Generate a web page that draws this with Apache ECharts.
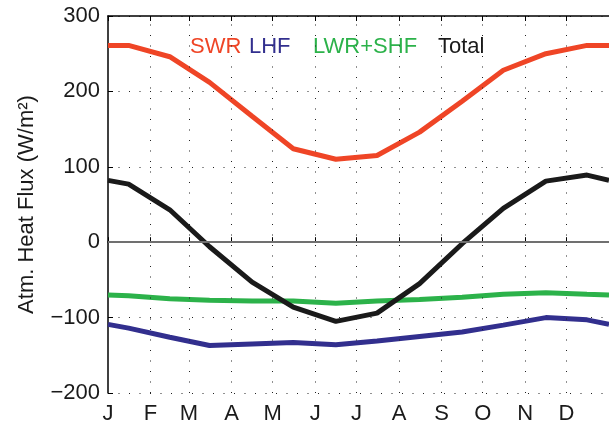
<!DOCTYPE html>
<html>
<head>
<meta charset="utf-8">
<script src="https://cdn.jsdelivr.net/npm/echarts@6/dist/echarts.min.js"></script>
<style>
  html, body { margin: 0; padding: 0; background: #fff; }
  #chart { width: 609px; height: 427px; }
</style>
</head>
<body>
<div id="chart"></div>
<script>
// Day of year for each monthly value (mid-month), padded at both ends of the year
const days = [0, 15, 45, 74, 105, 135, 166, 196, 227, 258, 288, 319, 349, 365];

// Monthly climatology of atmospheric heat flux components (W/m^2)
const swr   = [261, 261, 246, 212, 167, 124, 110, 115, 146, 187, 228, 250, 261, 261];
const lhf   = [-109, -114, -126, -137, -135, -133, -136, -131, -125, -119, -110, -100, -103, -109];
const lwrShf = [-70, -71, -75, -77, -78, -78, -81, -78, -76, -73, -69, -67, -69, -70];
const total = [82, 77, 43, -6, -53, -86, -105, -94, -55, -2, 45, 81, 89, 82];

// Month boundaries (day of year) and their labels
const monthStarts = [0, 31, 59, 90, 120, 151, 181, 212, 243, 273, 304, 334];
const monthLabels = ['J', 'F', 'M', 'A', 'M', 'J', 'J', 'A', 'S', 'O', 'N', 'D'];

// Y axis range and ticks
const yMin = -200, yMax = 300, yStep = 100;

const FONT = '"Liberation Sans", Arial, Helvetica, sans-serif';
const colors = { swr: '#EF4526', lhf: '#322F8E', lwr: '#2CB24A', total: '#1A1A1A' };

const pair = (xs, ys) => xs.map((x, i) => [x, ys[i]]);

const chart = echarts.init(document.getElementById('chart'), null, { renderer: 'canvas' });

const dotted = { color: '#222', width: 1, type: [1, 9.5] };

const baseX = {
  type: 'value', min: 0, max: 365,
  axisLine: { show: true, lineStyle: { color: '#000', width: 1.5 } },
  splitLine: { show: false }
};

chart.setOption({
  animation: false,
  backgroundColor: '#fff',
  grid: { left: 108, top: 16, right: -4, bottom: 34, containLabel: false },
  xAxis: [
    Object.assign({}, baseX, {
      position: 'bottom',
      axisTick: { show: true, inside: true, length: 5, customValues: monthStarts, lineStyle: { color: '#000', width: 1 } },
      axisLabel: {
        customValues: monthStarts,
        margin: 10,
        color: '#1a1a1a',
        fontFamily: FONT,
        fontSize: 22,
        formatter: v => monthLabels[monthStarts.indexOf(v)] || ''
      }
    }),
    Object.assign({}, baseX, {
      position: 'top',
      axisTick: { show: true, inside: true, length: 5, customValues: monthStarts, lineStyle: { color: '#000', width: 1 } },
      axisLabel: { show: false }
    })
  ],
  yAxis: {
    type: 'value', min: yMin, max: yMax, interval: yStep,
    axisLine: { show: true, lineStyle: { color: '#000', width: 1.5 } },
    axisTick: { show: true, inside: true, length: 5, lineStyle: { color: '#000', width: 1 } },
    axisLabel: {
      margin: 8,
      color: '#1a1a1a',
      fontFamily: FONT,
      fontSize: 22,
      formatter: v => String(v).replace('-', '\u2212')
    },
    splitLine: { show: true, lineStyle: dotted },
    name: 'Atm. Heat Flux (W/m\u00B2)',
    nameLocation: 'middle',
    nameRotate: 90,
    nameGap: 70,
    nameTextStyle: { color: '#1a1a1a', fontFamily: FONT, fontSize: 22 }
  },
  graphic: [
    { type: 'text', left: 190, top: 36, style: { text: 'SWR', fill: colors.swr, font: '22px ' + FONT } },
    { type: 'text', left: 249, top: 36, style: { text: 'LHF', fill: colors.lhf, font: '22px ' + FONT } },
    { type: 'text', left: 313, top: 36, style: { text: 'LWR+SHF', fill: colors.lwr, font: '22px ' + FONT } },
    { type: 'text', left: 438, top: 36, style: { text: 'Total', fill: '#1a1a1a', font: '22px ' + FONT } }
  ],
  series: [
    {
      // vertical month grid and the zero reference line
      type: 'line', data: [], silent: true, z: 1,
      markLine: {
        silent: true, symbol: 'none', label: { show: false },
        animation: false,
        data: monthStarts.slice(1).map(d => ({ xAxis: d, lineStyle: dotted }))
          .concat([{ yAxis: 0, lineStyle: { color: '#707070', width: 2, type: 'solid' } }])
      }
    },
    { name: 'SWR', type: 'line', data: pair(days, swr), showSymbol: false, z: 3,
      lineStyle: { color: colors.swr, width: 5 }, itemStyle: { color: colors.swr } },
    { name: 'LHF', type: 'line', data: pair(days, lhf), showSymbol: false, z: 3,
      lineStyle: { color: colors.lhf, width: 5 }, itemStyle: { color: colors.lhf } },
    { name: 'LWR+SHF', type: 'line', data: pair(days, lwrShf), showSymbol: false, z: 3,
      lineStyle: { color: colors.lwr, width: 5 }, itemStyle: { color: colors.lwr } },
    { name: 'Total', type: 'line', data: pair(days, total), showSymbol: false, z: 4,
      lineStyle: { color: colors.total, width: 5 }, itemStyle: { color: colors.total } }
  ]
});
</script>
</body>
</html>
